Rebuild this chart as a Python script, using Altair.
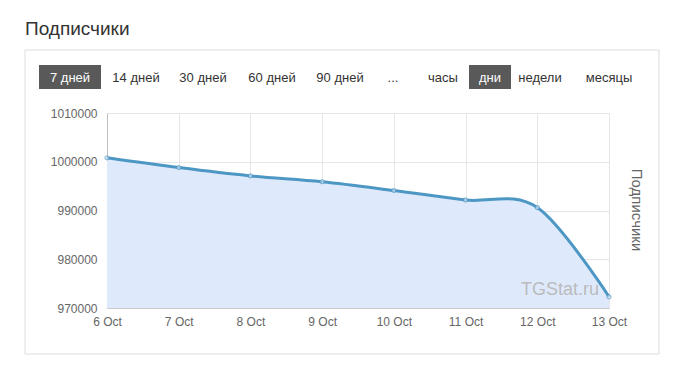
import altair as alt
import pandas as pd

dates = ["6 Oct", "7 Oct", "8 Oct", "9 Oct", "10 Oct", "11 Oct", "12 Oct", "13 Oct"]
subscribers = [1000800, 998800, 997100, 995900, 994100, 992150, 990600, 972300]
y_ticks = [970000, 980000, 990000, 1000000, 1010000]
period_buttons = ["7 дней", "14 дней", "30 дней", "60 дней", "90 дней", "...", "часы", "дни", "недели", "месяцы"]
active_buttons = ["7 дней", "дни"]

FONT = "Liberation Sans"
W, H = 502, 195
OX, OY = 107, 113

df = pd.DataFrame({"date": dates, "value": subscribers})

xenc = alt.X("date:O", sort=dates,
             scale=alt.Scale(type="point", padding=0),
             axis=alt.Axis(title=None, labelAngle=0, labelFont=FONT, labelFontSize=12,
                           labelColor="#666666", tickSize=0, labelPadding=8,
                           grid=True, gridColor="#e6e6e6", domainColor="#cccccc"))
yenc = alt.Y("value:Q",
             scale=alt.Scale(domain=[970000, 1010000], nice=False, zero=False),
             axis=alt.Axis(title=None, values=y_ticks, format="d", labelFont=FONT,
                           labelFontSize=12, labelColor="#666666", tickSize=0,
                           labelPadding=10, gridColor="#e6e6e6", domainColor="#c0c0c0"))

base = alt.Chart(df)
area = base.mark_area(interpolate="cardinal", color="#deeafc", opacity=1).encode(
    x=xenc, y=yenc, y2=alt.Y2(datum=y_ticks[0]))
line = base.mark_line(interpolate="cardinal", color="#4d97c4", strokeWidth=3).encode(x=xenc, y=yenc)
pts = base.mark_point(filled=True, size=18, color="#c9def0", stroke="#4d97c4", strokeWidth=1).encode(x=xenc, y=yenc)

# decorations
frame = alt.Chart(pd.DataFrame({"a": [0]})).mark_rect(fill=None, stroke="#dddddd", strokeWidth=1).encode(
    x=alt.value(25 - OX), x2=alt.value(659 - OX), y=alt.value(50 - OY), y2=alt.value(354 - OY))
title = alt.Chart(pd.DataFrame({"t": ["Подписчики"]})).mark_text(
    align="left", baseline="alphabetic", font=FONT, fontSize=19, color="#333333").encode(
    text="t:N", x=alt.value(25 - OX), y=alt.value(35 - OY))

btn_centers = [70, 136, 203, 272, 340, 393, 443, 490, 540, 609]
btn_df = pd.DataFrame({"label": period_buttons, "cx": [c - OX for c in btn_centers]})
btn_df["active"] = btn_df["label"].isin(active_buttons)
btn_df["w"] = [62, 0, 0, 0, 0, 0, 0, 42, 0, 0]
btn_df["x1"] = btn_df["cx"] - btn_df["w"] / 2
btn_df["x2"] = btn_df["cx"] + btn_df["w"] / 2
btn_rect = alt.Chart(btn_df).transform_filter("datum.active").mark_rect(color="#595959").encode(
    x=alt.X("x1:Q", scale=None, axis=None), x2="x2:Q", y=alt.value(65 - OY), y2=alt.value(89 - OY))
btn_text = alt.Chart(btn_df).mark_text(font=FONT, fontSize=13, baseline="alphabetic").encode(
    x=alt.X("cx:Q", scale=None, axis=None), y=alt.value(82 - OY), text="label:N",
    color=alt.condition("datum.active", alt.value("white"), alt.value("#333333")))

wm = alt.Chart(pd.DataFrame({"t": ["TGStat.ru"]})).mark_text(
    font=FONT, fontSize=18, color="#bbbbbb", align="center", baseline="alphabetic").encode(
    text="t:N", x=alt.value(560 - OX), y=alt.value(295 - OY))
ytitle = alt.Chart(pd.DataFrame({"t": ["Подписчики"]})).mark_text(
    font=FONT, fontSize=15, color="#666666", angle=90, align="center", baseline="middle").encode(
    text="t:N", x=alt.value(637 - OX), y=alt.value(210 - OY))

chart = alt.layer(area, line, pts, frame, title, btn_rect, btn_text, wm, ytitle).properties(
    width=W, height=H,
    autosize=alt.AutoSizeParams(type="none"),
    padding={"left": OX, "top": OY, "right": 680 - OX - W, "bottom": 377 - OY - H},
).configure_view(stroke=None).configure(background="white")

chart.save("out.html", embed_options={"renderer": "svg", "actions": False})
